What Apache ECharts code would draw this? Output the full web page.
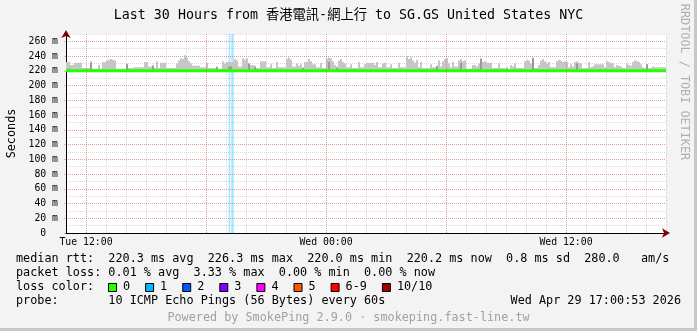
<!DOCTYPE html>
<html><head><meta charset="utf-8">
<script src="https://cdn.jsdelivr.net/npm/echarts@6/dist/echarts.min.js"></script>
<style>html,body{margin:0;padding:0;background:#f3f3f3}#c{width:697px;height:331px}</style>
</head><body><div id="c"></div>
<script>
const titleText = 'Last 30 Hours from 香港電訊-網上行 to SG.GS United States NYC';
const tickHours = [1, 13, 25];
const tickLabels = ['Tue 12:00', 'Wed 00:00', 'Wed 12:00'];
const majorHours = [1, 7, 13, 19, 25];
const binHours = 0.1;
const smokeTop = [
232,232,228,228,231,231,231,231,224,224,224,224,233,223,223,223,228,223,232,232,234,235,236,235,234,223,223,223,223,223,230,224,224,224,225,225,225,225,225,232,232,226,226,226,224,233,224,231,231,231,
224,224,224,224,224,230,234,237,236,241,238,233,230,227,227,227,227,225,225,225,231,224,224,224,224,226,223,223,233,230,232,232,232,232,236,234,226,226,237,235,237,230,228,228,227,224,224,233,233,233,
225,225,229,224,224,232,225,225,225,225,236,238,235,226,226,230,227,229,225,232,232,236,233,229,229,225,225,231,224,224,236,238,237,233,228,226,234,236,232,230,225,225,229,224,224,224,232,225,225,229,
231,231,231,231,228,232,225,225,230,231,225,225,229,224,224,224,231,225,225,225,240,236,238,234,231,235,225,232,224,224,224,224,229,225,225,227,234,226,233,236,237,230,225,232,226,226,234,236,233,234,
223,223,223,228,228,226,230,237,232,233,231,231,231,224,224,224,230,224,224,224,225,223,228,226,230,224,224,224,224,233,235,234,230,238,224,224,228,234,236,233,230,232,225,225,225,233,235,234,232,233,
232,225,229,226,232,233,231,230,224,224,224,232,225,226,229,229,229,229,229,225,233,232,231,230,225,228,227,226,224,224,230,228,227,232,234,233,232,229,225,224,229,224,224,226,225,225,225,225,225,225
];
const darkSmoke = [[1,223],[12,231],[30,229],[35,222],[43,228],[75,225],[81,226],[82,226],[91,230],[94,225],[118,224],[131,232],[135,224],[185,226],[197,231],[207,236],[220,223],[233,237],[255,230],[290,229]];
const medianStep = 0.5;
const medianVals = [
220.3,220.2,220.2,220.1,220.2,220.3,220.2,220.2,220.1,220.2,
220.2,220.3,220.2,220.1,220.2,220.2,220.4,220.2,220.2,220.1,
220.2,220.2,220.3,220.2,220.2,220.1,220.2,220.2,220.3,220.2,
220.2,220.1,220.2,220.3,220.2,220.2,220.2,220.1,220.2,220.2,
220.3,220.2,220.2,220.1,220.2,220.2,220.3,220.2,220.2,220.1,
220.2,220.2,220.3,220.2,220.2,220.1,220.2,220.2,220.2,220.2,
220.2];
const lossStart = [8.135, 8.265];
const lossEnd = [8.215, 8.385];
const lossColors = ['#26ff00','#00b8ff','#0059ff','#7e00ff','#ff00ff','#ff5500','#ff0000','#a10000'];
const lossLabels = ['0','1','2','3','4','5','6-9','10/10'];
const statRows = [
  'median rtt:  220.3 ms avg  226.3 ms max  220.0 ms min  220.2 ms now  0.8 ms sd  280.0   am/s',
  'packet loss: 0.01 % avg  3.33 % max  0.00 % min  0.00 % now',
  'loss color:',
  'probe:       10 ICMP Echo Pings (56 Bytes) every 60s'
];
const stampText = 'Wed Apr 29 17:00:53 2026';
const poweredText = 'Powered by SmokePing 2.9.0 · smokeping.fast-line.tw';
const sideText = 'RRDTOOL / TOBI OETIKER';

const MONO = "'DejaVu Sans Mono', 'Noto Sans CJK TC', monospace";
const gridC = 'rgba(143,143,143,0.32)';
const mgridC = 'rgba(229,0,0,0.28)';
const LF = '11.8px ' + MONO;

function rectRender(color, halfW, base) {
  return function (params, api) {
    const x = api.value(0), top = api.value(1);
    const p1 = api.coord([x - halfW, top]);
    const p2 = api.coord([x + halfW, base]);
    return { type: 'rect', shape: { x: p1[0], y: p1[1], width: p2[0] - p1[0], height: p2[1] - p1[1] }, style: { fill: color } };
  };
}

const graphics = [
  { type: 'rect', shape: { x: 694, y: 0, width: 3, height: 331 }, style: { fill: '#c8c8c8' } },
  { type: 'rect', shape: { x: 0, y: 328, width: 697, height: 3 }, style: { fill: '#c8c8c8' } },
  { type: 'text', x: 684, y: 82, rotation: -Math.PI / 2, style: { text: sideText, font: LF, fill: '#b0b0b0', align: 'center', verticalAlign: 'middle' } },
  { type: 'text', x: 348.5, y: 318, style: { text: poweredText, font: LF, fill: '#a0a0a0', align: 'center', verticalAlign: 'middle' } },
  { type: 'text', x: 681, y: 301, style: { text: stampText, font: LF, fill: '#000', align: 'right', verticalAlign: 'middle' } }
];
const rowY = [259, 273, 287, 301];
statRows.forEach((t, i) => graphics.push({ type: 'text', x: 16, y: rowY[i], style: { text: t, font: LF, fill: '#000', align: 'left', verticalAlign: 'middle' } }));
let bx = 108;
lossLabels.forEach((lab, i) => {
  graphics.push({ type: 'rect', shape: { x: bx + 0.5, y: 283.5, width: 8, height: 8 }, style: { fill: lossColors[i], stroke: '#000', lineWidth: 1 } });
  graphics.push({ type: 'text', x: bx + 15, y: 287, style: { text: lab, font: LF, fill: '#000', align: 'left', verticalAlign: 'middle' } });
  bx = bx + 15 + lab.length * 7.1 + 15;
});

const chart = echarts.init(document.getElementById('c'), null, { renderer: 'canvas' });
const xBase = { type: 'value', min: 0, max: 30, position: 'bottom' };
const yBase = { type: 'value', min: 0, max: 270, position: 'left' };
chart.setOption({
  animation: false,
  backgroundColor: '#f3f3f3',
  title: { text: titleText, left: 'center', top: 9, padding: 0, textStyle: { fontFamily: MONO, fontSize: 13.3, fontWeight: 'normal', color: '#000' } },
  grid: { left: 66, right: 31, top: 34, bottom: 98, show: true, backgroundColor: '#fff', borderWidth: 0, containLabel: false, outerBoundsMode: 'none' },
  xAxis: [
    Object.assign({}, xBase, {
      interval: 1,
      axisLine: { show: true, lineStyle: { color: '#000', width: 1 } },
      axisTick: { show: false },
      axisLabel: { margin: 5, fontFamily: MONO, fontSize: 9.8, color: '#000',
        formatter: v => { const i = tickHours.indexOf(Math.round(v * 1000) / 1000); return i >= 0 ? tickLabels[i] : ''; } },
      splitLine: { show: true, showMinLine: false, showMaxLine: true, lineStyle: { color: gridC, type: [1, 1] } }
    }),
    Object.assign({}, xBase, {
      axisLine: { show: true, symbol: ['none', 'arrow'], symbolSize: [7, 8], symbolOffset: [0, 4], lineStyle: { color: '#800000', width: 0 } },
      axisTick: { show: false }, axisLabel: { show: false }, splitLine: { show: false }
    })
  ],
  yAxis: [
    Object.assign({}, yBase, {
      interval: 10,
      axisLine: { show: true, lineStyle: { color: '#000', width: 1 } },
      axisTick: { show: false }, axisLabel: { show: false },
      splitLine: { show: true, showMinLine: false, lineStyle: { color: gridC, type: [1, 1] } },
      name: 'Seconds', nameLocation: 'middle', nameRotate: 90, nameGap: 48,
      nameTextStyle: { fontFamily: MONO, fontSize: 11.8, color: '#000' }
    }),
    Object.assign({}, yBase, {
      interval: 20,
      axisLine: { show: false },
      axisTick: { show: true, length: 2, lineStyle: { color: mgridC } },
      axisLabel: { margin: 8, fontFamily: MONO, fontSize: 9.8, color: '#000',
        formatter: v => v === 0 ? '0  ' : (v >= 270 ? '' : v + ' m') },
      splitLine: { show: true, showMinLine: false, showMaxLine: false, lineStyle: { color: mgridC, type: [1, 1] } }
    }),
    Object.assign({}, yBase, {
      axisLine: { show: true, symbol: ['none', 'arrow'], symbolSize: [7, 8], symbolOffset: [0, 4], lineStyle: { color: '#800000', width: 0 } },
      axisTick: { show: false }, axisLabel: { show: false }, splitLine: { show: false }
    })
  ],
  series: [
    {
      type: 'custom', name: 'smoke', z: 2, xAxisIndex: 0, yAxisIndex: 0,
      renderItem: rectRender('#c6c6c6', binHours / 2, 220),
      data: smokeTop.map((t, i) => [(i + 0.5) * binHours, t]),
      markArea: { silent: true, itemStyle: { color: 'rgba(0,184,255,0.35)' }, label: { show: false },
        data: lossStart.map((s, i) => [{ xAxis: s }, { xAxis: lossEnd[i] }]) },
      markLine: { silent: true, symbol: 'none', label: { show: false }, lineStyle: { color: mgridC, type: [1, 1], width: 1 },
        data: majorHours.map(h => ({ xAxis: h })) }
    },
    {
      type: 'custom', name: 'darksmoke', z: 3, xAxisIndex: 0, yAxisIndex: 0,
      renderItem: rectRender('#6e6e6e', binHours / 4, 220),
      data: darkSmoke.map(d => [(d[0] + 0.5) * binHours, d[1]])
    },
    {
      type: 'line', name: 'median', z: 4, xAxisIndex: 0, yAxisIndex: 0,
      symbol: 'none', lineStyle: { color: '#26ff00', width: 3 },
      data: medianVals.map((v, i) => [i * medianStep, v])
    }
  ],
  graphic: graphics
});
</script></body></html>
